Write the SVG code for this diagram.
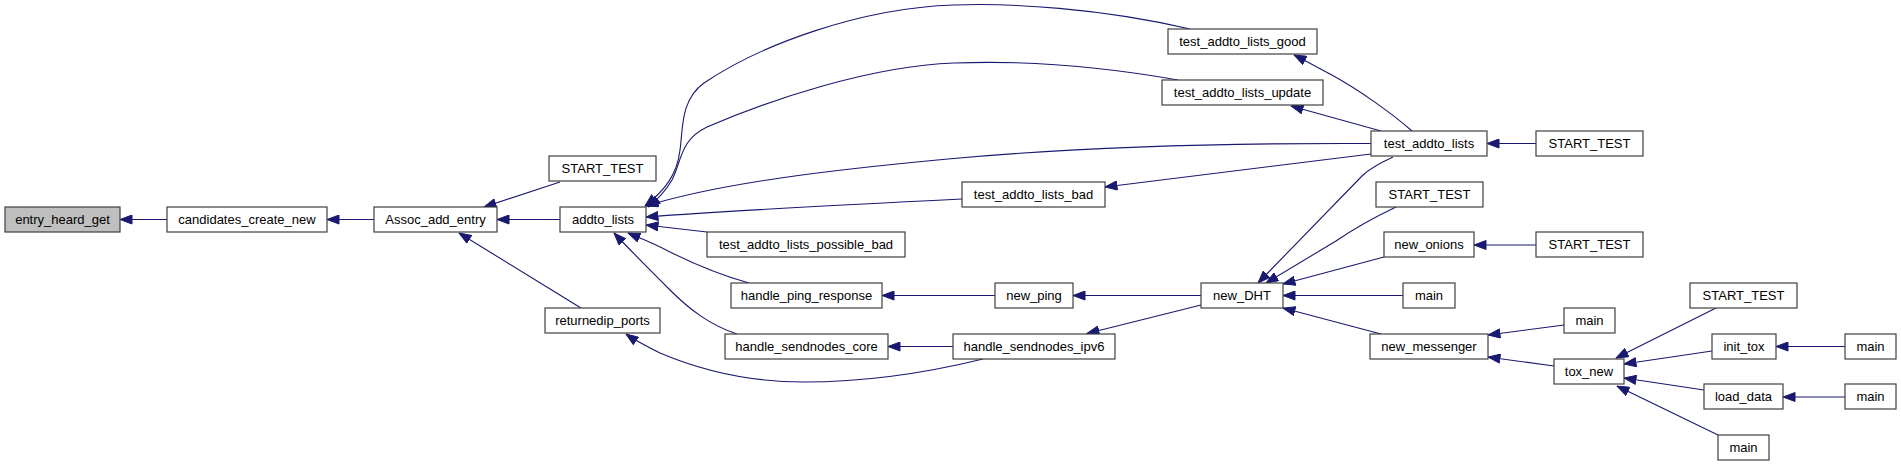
<svg xmlns="http://www.w3.org/2000/svg" width="1901" height="466" viewBox="0 0 1901 466">
<defs>
<style>
.node rect{fill:#ffffff;stroke:#404040;stroke-width:1.2}
.node.cur rect{fill:#bfbfbf}
.node text{font-family:"Liberation Sans",Arial,Helvetica,sans-serif;font-size:13px;fill:#000;text-anchor:middle}
.edges path{fill:none;stroke:#191970;stroke-width:1.1;marker-end:url(#arr)}
</style>
<marker id="arr" markerUnits="userSpaceOnUse" viewBox="0 0 13 10" markerWidth="13" markerHeight="10" refX="12.5" refY="5" orient="auto">
<path d="M0.5,0.5 L12.5,5 L0.5,9.5 Z" fill="#191970" stroke="#191970" stroke-width="1"/>
</marker>
</defs>
<rect x="0" y="0" width="1901" height="466" fill="#ffffff"/>
<g id="edges" class="edges">
<path d="M167,219.5 L120,219.5"/>
<path d="M374,219.5 L327,219.5"/>
<path d="M560,182 L484,207"/>
<path d="M560,219.5 L497,219.5"/>
<path d="M581,308 L459,233"/>
<path d="M1190,29 C1100,8 1010,3 954,5 C860,8 760,45 704,83 C680,100 683,130 680,150 C677,175 665,190 645,206"/>
<path d="M1178,80 C1110,68 1030,60 954,63 C870,66 770,100 707,127 C680,140 682,160 672,180 C665,192 657,200 648,207"/>
<path d="M1371,143.5 C1250,143 1100,145 948,159 C830,170 720,183 646,206"/>
<path d="M962,199 C860,204 740,210 646,217"/>
<path d="M707,232 L646,225"/>
<path d="M749,283 C720,275 690,262 668,251 C655,244 640,238 628,233"/>
<path d="M737,334 C710,325 690,310 670,290 C650,270 630,250 614,233"/>
<path d="M983,359 C930,372 870,382 804,382 C750,382 700,370 660,353 C648,347 636,341 626,334"/>
<path d="M953,346.5 L888,346.5"/>
<path d="M995,295.5 L882,295.5"/>
<path d="M1201,295.5 L1073,295.5"/>
<path d="M1201,305 L1087,333.5"/>
<path d="M1412,131 C1395,116 1360,90 1330,74 C1315,66 1304,60 1294,55"/>
<path d="M1381,131 L1291,106"/>
<path d="M1371,154 L1105,187"/>
<path d="M1536,143.5 L1487,143.5"/>
<path d="M1393,157 C1380,163 1370,168 1362,176 L1258,283"/>
<path d="M1396,207 C1375,217 1355,228 1336,241 L1266,283"/>
<path d="M1384,257 L1283,284"/>
<path d="M1403,295.5 L1283,295.5"/>
<path d="M1381,334 L1283,308"/>
<path d="M1536,245 L1474,245"/>
<path d="M1564,325 L1488,335"/>
<path d="M1554,366 L1488,357"/>
<path d="M1716,308 L1616,358"/>
<path d="M1712,351 L1624,364"/>
<path d="M1704,390 L1624,378"/>
<path d="M1718,435 L1617,386"/>
<path d="M1845,346.5 L1776,346.5"/>
<path d="M1845,397 L1783,397"/>
</g>
<g id="n_entry_heard_get" class="node cur"><rect x="5" y="207" width="115" height="25"/><text x="62.5" y="224">entry_heard_get</text></g>
<g id="n_candidates_create_new" class="node"><rect x="167" y="207" width="160" height="25"/><text x="247" y="224">candidates_create_new</text></g>
<g id="n_Assoc_add_entry" class="node"><rect x="374" y="207" width="123" height="25"/><text x="435.5" y="224">Assoc_add_entry</text></g>
<g id="n_START_TEST_1" class="node"><rect x="549" y="156" width="107" height="25"/><text x="602.5" y="173">START_TEST</text></g>
<g id="n_addto_lists" class="node"><rect x="560" y="207" width="86" height="25"/><text x="603" y="224">addto_lists</text></g>
<g id="n_returnedip_ports" class="node"><rect x="545" y="308" width="115" height="25"/><text x="602.5" y="325">returnedip_ports</text></g>
<g id="n_test_addto_lists_good" class="node"><rect x="1168" y="29" width="149" height="25"/><text x="1242.5" y="46">test_addto_lists_good</text></g>
<g id="n_test_addto_lists_update" class="node"><rect x="1162" y="80" width="161" height="25"/><text x="1242.5" y="97">test_addto_lists_update</text></g>
<g id="n_test_addto_lists_bad" class="node"><rect x="962" y="182" width="143" height="25"/><text x="1033.5" y="199">test_addto_lists_bad</text></g>
<g id="n_test_addto_lists_possible_bad" class="node"><rect x="707" y="232" width="198" height="25"/><text x="806" y="249">test_addto_lists_possible_bad</text></g>
<g id="n_handle_ping_response" class="node"><rect x="731" y="283" width="151" height="25"/><text x="806.5" y="300">handle_ping_response</text></g>
<g id="n_handle_sendnodes_core" class="node"><rect x="725" y="334" width="163" height="25"/><text x="806.5" y="351">handle_sendnodes_core</text></g>
<g id="n_new_ping" class="node"><rect x="995" y="283" width="78" height="25"/><text x="1034" y="300">new_ping</text></g>
<g id="n_handle_sendnodes_ipv6" class="node"><rect x="953" y="334" width="162" height="25"/><text x="1034" y="351">handle_sendnodes_ipv6</text></g>
<g id="n_test_addto_lists" class="node"><rect x="1371" y="131" width="116" height="25"/><text x="1429" y="148">test_addto_lists</text></g>
<g id="n_START_TEST_2" class="node"><rect x="1536" y="131" width="107" height="25"/><text x="1589.5" y="148">START_TEST</text></g>
<g id="n_START_TEST_3" class="node"><rect x="1376" y="182" width="107" height="25"/><text x="1429.5" y="199">START_TEST</text></g>
<g id="n_new_onions" class="node"><rect x="1384" y="232" width="90" height="25"/><text x="1429" y="249">new_onions</text></g>
<g id="n_START_TEST_4" class="node"><rect x="1536" y="232" width="107" height="25"/><text x="1589.5" y="249">START_TEST</text></g>
<g id="n_new_DHT" class="node"><rect x="1201" y="283" width="82" height="25"/><text x="1242" y="300">new_DHT</text></g>
<g id="n_main_1" class="node"><rect x="1403" y="283" width="52" height="25"/><text x="1429" y="300">main</text></g>
<g id="n_new_messenger" class="node"><rect x="1370" y="334" width="118" height="25"/><text x="1429" y="351">new_messenger</text></g>
<g id="n_main_2" class="node"><rect x="1564" y="308" width="51" height="25"/><text x="1589.5" y="325">main</text></g>
<g id="n_tox_new" class="node"><rect x="1554" y="359" width="70" height="25"/><text x="1589" y="376">tox_new</text></g>
<g id="n_START_TEST_5" class="node"><rect x="1690" y="283" width="107" height="25"/><text x="1743.5" y="300">START_TEST</text></g>
<g id="n_init_tox" class="node"><rect x="1712" y="334" width="64" height="25"/><text x="1744" y="351">init_tox</text></g>
<g id="n_main_3" class="node"><rect x="1845" y="334" width="51" height="25"/><text x="1870.5" y="351">main</text></g>
<g id="n_load_data" class="node"><rect x="1704" y="384" width="79" height="25"/><text x="1743.5" y="401">load_data</text></g>
<g id="n_main_4" class="node"><rect x="1845" y="384" width="51" height="25"/><text x="1870.5" y="401">main</text></g>
<g id="n_main_5" class="node"><rect x="1718" y="435" width="51" height="25"/><text x="1743.5" y="452">main</text></g>
</svg>
